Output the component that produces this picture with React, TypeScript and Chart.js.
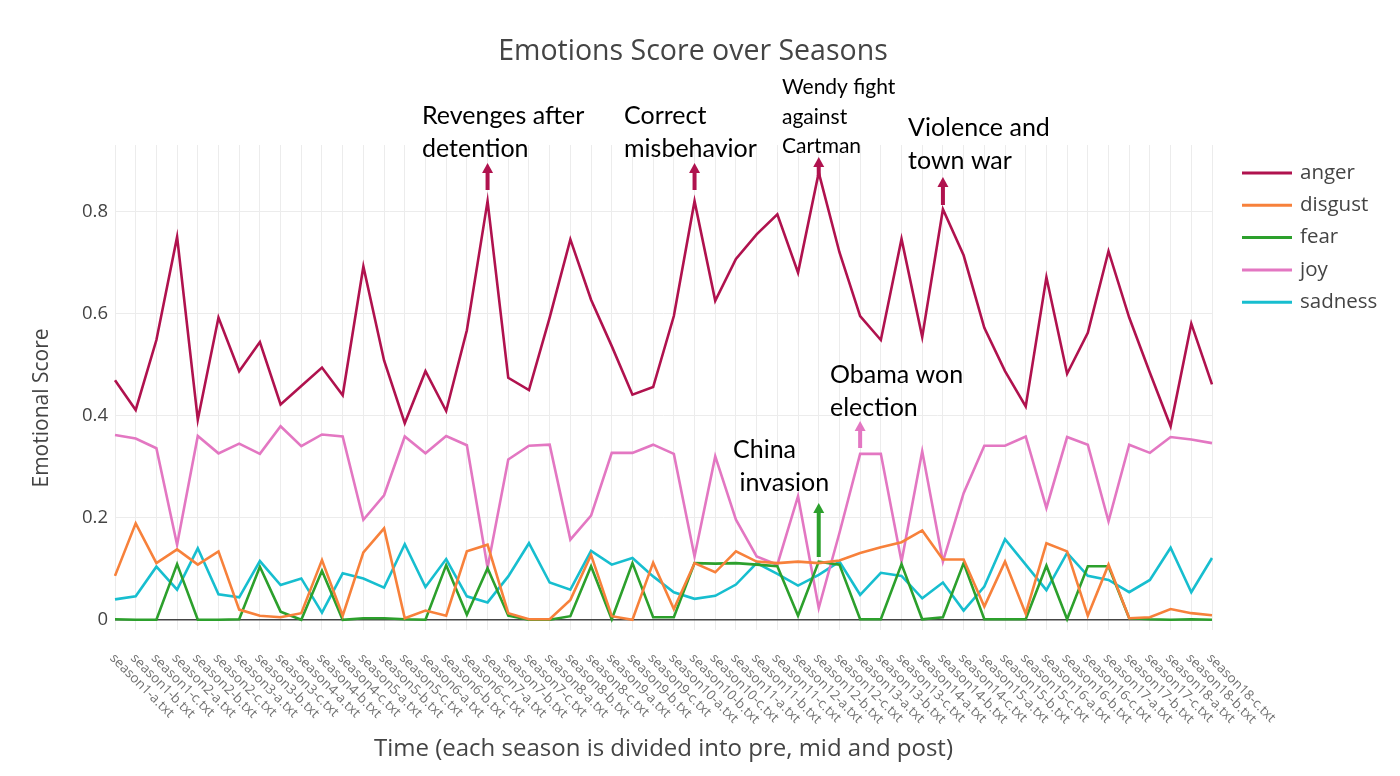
import React, { useEffect, useRef } from "react";
import { Chart, registerables } from "chart.js";

Chart.register(...registerables);

const categories = [
  "season1-a.txt", "season1-b.txt", "season1-c.txt",
  "season2-a.txt", "season2-b.txt", "season2-c.txt",
  "season3-a.txt", "season3-b.txt", "season3-c.txt",
  "season4-a.txt", "season4-b.txt", "season4-c.txt",
  "season5-a.txt", "season5-b.txt", "season5-c.txt",
  "season6-a.txt", "season6-b.txt", "season6-c.txt",
  "season7-a.txt", "season7-b.txt", "season7-c.txt",
  "season8-a.txt", "season8-b.txt", "season8-c.txt",
  "season9-a.txt", "season9-b.txt", "season9-c.txt",
  "season10-a.txt", "season10-b.txt", "season10-c.txt",
  "season11-a.txt", "season11-b.txt", "season11-c.txt",
  "season12-a.txt", "season12-b.txt", "season12-c.txt",
  "season13-a.txt", "season13-b.txt", "season13-c.txt",
  "season14-a.txt", "season14-b.txt", "season14-c.txt",
  "season15-a.txt", "season15-b.txt", "season15-c.txt",
  "season16-a.txt", "season16-b.txt", "season16-c.txt",
  "season17-a.txt", "season17-b.txt", "season17-c.txt",
  "season18-a.txt", "season18-b.txt", "season18-c.txt",
];

const anger = [
  0.469, 0.411, 0.548, 0.750, 0.392, 0.592, 0.487, 0.544, 0.422,
  0.458, 0.494, 0.440, 0.692, 0.508, 0.385, 0.487, 0.409, 0.567,
  0.820, 0.474, 0.450, 0.592, 0.745, 0.627, 0.536, 0.441, 0.456,
  0.595, 0.820, 0.625, 0.707, 0.755, 0.794, 0.680, 0.876, 0.720,
  0.595, 0.548, 0.746, 0.554, 0.804, 0.714, 0.572, 0.487, 0.418,
  0.671, 0.482, 0.562, 0.722, 0.592, 0.484, 0.379, 0.580, 0.461,
];

const disgust = [
  0.086, 0.189, 0.111, 0.138, 0.108, 0.134, 0.020, 0.008, 0.005,
  0.013, 0.117, 0.008, 0.132, 0.179, 0.003, 0.018, 0.008, 0.134,
  0.147, 0.013, 0.001, 0.001, 0.039, 0.127, 0.007, 0.000, 0.112,
  0.021, 0.111, 0.093, 0.134, 0.114, 0.111, 0.114, 0.111, 0.116,
  0.131, 0.142, 0.152, 0.175, 0.118, 0.118, 0.026, 0.114, 0.012,
  0.150, 0.134, 0.008, 0.108, 0.003, 0.005, 0.021, 0.013, 0.009,
];

const fear = [
  0.001, 0.000, 0.000, 0.109, 0.000, 0.000, 0.001, 0.104, 0.016,
  0.000, 0.096, 0.000, 0.003, 0.003, 0.001, 0.000, 0.107, 0.010,
  0.101, 0.008, 0.000, 0.000, 0.007, 0.105, 0.001, 0.111, 0.005,
  0.005, 0.111, 0.110, 0.111, 0.108, 0.105, 0.008, 0.114, 0.108,
  0.001, 0.001, 0.109, 0.001, 0.005, 0.111, 0.001, 0.001, 0.001,
  0.106, 0.001, 0.105, 0.105, 0.003, 0.001, 0.000, 0.001, 0.000,
];

const joy = [
  0.362, 0.355, 0.336, 0.147, 0.360, 0.326, 0.345, 0.325, 0.379,
  0.340, 0.363, 0.359, 0.196, 0.244, 0.359, 0.326, 0.360, 0.342,
  0.102, 0.314, 0.341, 0.343, 0.157, 0.204, 0.327, 0.327, 0.343,
  0.325, 0.124, 0.320, 0.196, 0.124, 0.108, 0.242, 0.023, 0.170,
  0.325, 0.325, 0.114, 0.330, 0.114, 0.248, 0.341, 0.341, 0.359,
  0.219, 0.358, 0.343, 0.193, 0.343, 0.327, 0.358, 0.353, 0.346,
];

const sadness = [
  0.040, 0.046, 0.104, 0.059, 0.140, 0.050, 0.044, 0.115, 0.068,
  0.081, 0.014, 0.091, 0.081, 0.063, 0.148, 0.064, 0.119, 0.046,
  0.034, 0.085, 0.150, 0.073, 0.059, 0.135, 0.108, 0.121, 0.085,
  0.054, 0.041, 0.047, 0.069, 0.111, 0.090, 0.067, 0.088, 0.114,
  0.049, 0.092, 0.086, 0.042, 0.073, 0.018, 0.065, 0.158, 0.108,
  0.058, 0.131, 0.086, 0.078, 0.054, 0.078, 0.141, 0.054, 0.121,
];

const seriesNames = ["anger", "disgust", "fear", "joy", "sadness"];
const seriesValues = [anger, disgust, fear, joy, sadness];
const seriesColors = ["#b0124e", "#f7813b", "#2ca02c", "#e377c2", "#17becf"];

const yTicks = [0, 0.2, 0.4, 0.6, 0.8];

const chartTitle = "Emotions Score over Seasons";
const xTitle = "Time (each season is divided into pre, mid and post)";
const yTitle = "Emotional Score";

// Annotations: anchored to a category index; text placement in pixel offsets
const annotations = [
  { index: 18, color: 0, lines: ["Revenges after", "detention"], textX: 422, textY: [116, 149], size: 25, arrowFrom: 190, arrowTo: 163 },
  { index: 28, color: 0, lines: ["Correct", "misbehavior"], textX: 624, textY: [116, 149], size: 25, arrowFrom: 190, arrowTo: 163 },
  { index: 34, color: 0, lines: ["Wendy fight", "against", "Cartman"], textX: 782, textY: [87, 117, 146], size: 21, arrowFrom: 176, arrowTo: 157 },
  { index: 40, color: 0, lines: ["Violence and", "town war"], textX: 908, textY: [128, 161], size: 25, arrowFrom: 205, arrowTo: 177 },
  { index: 36, color: 3, lines: ["Obama won", "election"], textX: 830, textY: [375, 408], size: 25, arrowFrom: 448, arrowTo: 421 },
  { index: 34, color: 2, lines: ["China", " invasion"], textX: 733, textY: [450, 483], size: 25, arrowFrom: 557, arrowTo: 503 },
];

const overlayPlugin = {
  id: "overlay",
  afterDraw(chart: any) {
    const ctx = chart.ctx as CanvasRenderingContext2D;
    const xs = chart.scales.x;
    ctx.save();

    // Title
    ctx.fillStyle = "#444";
    ctx.font = '28.5px "Open Sans"';
    ctx.textAlign = "center";
    ctx.textBaseline = "middle";
    ctx.fillText(chartTitle, 693, 52);

    // Y axis title
    ctx.save();
    ctx.translate(42, 408);
    ctx.rotate(-Math.PI / 2);
    ctx.font = '21px "Open Sans"';
    ctx.fillStyle = "#444";
    ctx.fillText(yTitle, 0, 0);
    ctx.restore();

    // Rotated category labels
    ctx.font = '13.5px "Open Sans"';
    ctx.fillStyle = "#707070";
    ctx.textAlign = "left";
    ctx.textBaseline = "middle";
    categories.forEach((c, i) => {
      const px = xs.getPixelForValue(i);
      ctx.save();
      ctx.translate(px - 3, 656);
      ctx.rotate(Math.PI / 4);
      ctx.fillText(c, 0, 0);
      ctx.restore();
    });

    // Legend
    chart.data.datasets.forEach((ds: any, i: number) => {
      const ly = 173 + i * 32.3;
      ctx.strokeStyle = ds.borderColor;
      ctx.lineWidth = 3;
      ctx.beginPath();
      ctx.moveTo(1242, ly);
      ctx.lineTo(1292, ly);
      ctx.stroke();
      ctx.fillStyle = "#444";
      ctx.font = '20.5px "Open Sans"';
      ctx.textAlign = "left";
      ctx.textBaseline = "middle";
      ctx.fillText(ds.label, 1300, ly);
    });

    // Annotations
    annotations.forEach((a) => {
      const ax = xs.getPixelForValue(a.index);
      const col = seriesColors[a.color];
      ctx.fillStyle = "#000";
      ctx.font = `${a.size}px Lato`;
      ctx.textAlign = "left";
      ctx.textBaseline = "middle";
      a.lines.forEach((t, k) => ctx.fillText(t, a.textX, a.textY[k]));
      ctx.strokeStyle = col;
      ctx.fillStyle = col;
      ctx.lineWidth = 4;
      ctx.beginPath();
      ctx.moveTo(ax, a.arrowFrom);
      ctx.lineTo(ax, a.arrowTo + 8);
      ctx.stroke();
      ctx.beginPath();
      ctx.moveTo(ax, a.arrowTo);
      ctx.lineTo(ax - 5.5, a.arrowTo + 10);
      ctx.lineTo(ax + 5.5, a.arrowTo + 10);
      ctx.closePath();
      ctx.fill();
    });

    ctx.restore();
  },
};

export default function App() {
  const canvasRef = useRef<HTMLCanvasElement | null>(null);

  useEffect(() => {
    if (!canvasRef.current) return;
    const chart = new Chart(canvasRef.current, {
      type: "line",
      data: {
        labels: categories,
        datasets: seriesNames.map((name, i) => ({
          label: name,
          data: seriesValues[i],
          borderColor: seriesColors[i],
          backgroundColor: seriesColors[i],
          borderWidth: 2.6,
          pointRadius: 0,
          tension: 0,
          fill: false,
        })),
      },
      options: {
        responsive: false,
        animation: false,
        layout: { padding: { top: 145, right: 188, left: 0, bottom: 0 } },
        plugins: {
          legend: { display: false },
          title: { display: false },
          tooltip: { enabled: false },
        },
        scales: {
          x: {
            type: "category",
            offset: false,
            border: { display: false },
            grid: { color: "#ececec", lineWidth: 1, drawTicks: false },
            ticks: { display: false },
            title: {
              display: true,
              text: xTitle,
              color: "#444",
              font: { family: "Open Sans", size: 24 },
              padding: { top: 0, bottom: 12 },
            },
            afterFit: (scale: any) => {
              scale.height = 146;
            },
          },
          y: {
            min: -0.02,
            max: 0.93,
            border: { display: false },
            grid: {
              drawTicks: false,
              color: (c: any) => (c.tick && Math.abs(c.tick.value) < 1e-9 ? "#444" : "#ececec"),
              lineWidth: (c: any) => (c.tick && Math.abs(c.tick.value) < 1e-9 ? 1.5 : 1),
            },
            afterBuildTicks: (scale: any) => {
              scale.ticks = yTicks.map((v) => ({ value: v }));
            },
            ticks: {
              color: "#444",
              font: { family: "Open Sans", size: 18.5 },
              padding: 7,
              callback: (v: any) => (Math.abs(v) < 1e-9 ? "0" : String(Math.round(v * 10) / 10)),
            },
            title: { display: false },
            afterFit: (scale: any) => {
              scale.width = 115;
            },
          },
        },
      },
      plugins: [overlayPlugin],
    });
    return () => chart.destroy();
  }, []);

  return (
    <div style={{ position: "absolute", left: 0, top: 0, width: 1400, height: 776, background: "#fff" }}>
      <canvas ref={canvasRef} width={1400} height={776} style={{ display: "block" }} />
    </div>
  );
}
